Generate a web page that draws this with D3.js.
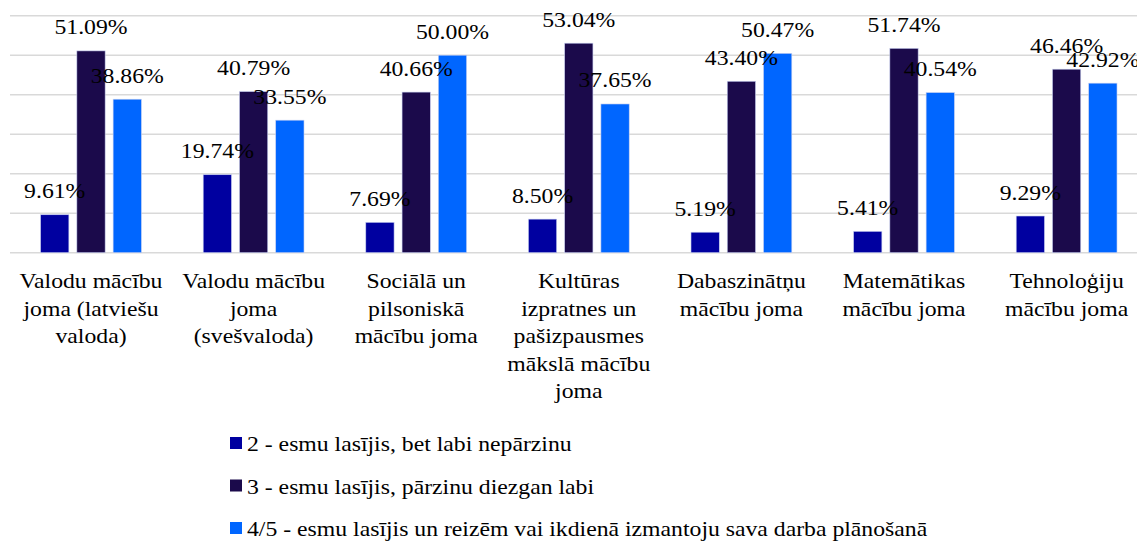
<!DOCTYPE html>
<html>
<head>
<meta charset="utf-8">
<script src="https://cdn.jsdelivr.net/npm/d3@7"></script>
</head>
<body style="margin:0">
<script>
// --------------------------------------
//  Data
// --------------------------------------

const categories = [
  "Valodu mācību joma (latviešu valoda)",
  "Valodu mācību joma (svešvaloda)",
  "Sociālā un pilsoniskā mācību joma",
  "Kultūras izpratnes un pašizpausmes mākslā mācību joma",
  "Dabaszinātņu mācību joma",
  "Matemātikas mācību joma",
  "Tehnoloģiju mācību joma"
];

const seriesNames = [
  "2 - esmu lasījis, bet labi nepārzinu",
  "3 - esmu lasījis, pārzinu diezgan labi",
  "4/5 - esmu lasījis un reizēm vai ikdienā izmantoju sava darba plānošanā"
];

const values2 = [9.61, 19.74, 7.69, 8.50, 5.19, 5.41, 9.29];
const values3 = [51.09, 40.79, 40.66, 53.04, 43.40, 51.74, 46.46];
const values45 = [38.86, 33.55, 50.00, 37.65, 50.47, 40.54, 42.92];

const gridTicks = [0, 10, 20, 30, 40, 50, 60];

const colors = ["#0000a0", "#1b0a4b", "#0066ff"];

// --------------------------------------
//  Canvas
// --------------------------------------

const W = 1137, H = 541;
const fontSize = 21;
const stretch = 1.13;   // the reference text is a bit wide
const fam = "\"Liberation Serif\"";

const svg = d3.select("body")
  .append("svg")
    .attr("width", W)
    .attr("height", H)
    .style("font-family", fam, "important");

// --------------------------------------
// Scales
// --------------------------------------

const x0 = d3.scaleBand()
    .domain(categories)
    .range([9.7, 1147.9])
    .paddingInner(0.38)
    .paddingOuter(0.19);

const x1 = d3.scaleBand()
    .domain([0, 1, 2])
    .range([0, x0.bandwidth()])
    .paddingInner(0.22);

const y = d3.scaleLinear()
    .domain([0, 60])
    .range([252.7, 15.7]);

// --------------------------------------
// Grid
// --------------------------------------

svg.append("g")
  .selectAll("line")
  .data(gridTicks)
  .join("line")
    .attr("x1", 10)
    .attr("x2", W)
    .attr("y1", d => y(d))
    .attr("y2", d => y(d))
    .attr("stroke", "#d9d9d9")
    .attr("stroke-width", 1.5);

// --------------------------------------
// Bars and labels
// --------------------------------------

const rows = categories.map((c, i) => ({
  cat: c,
  vals: [values2[i], values3[i], values45[i]]
}));

const groups = svg.append("g")
  .selectAll("g")
  .data(rows)
  .join("g")
    .attr("transform", d => `translate(${x0(d.cat)},0)`);

groups.selectAll("rect")
  .data(d => d.vals.map((v, k) => ({ k, v })))
  .join("rect")
    .attr("x", d => x1(d.k))
    .attr("y", d => y(d.v))
    .attr("width", x1.bandwidth())
    .attr("height", d => y(0) - y(d.v))
    .attr("fill", d => colors[d.k])
    .attr("stroke", "#c8d0f0")
    .attr("stroke-width", 0.6);

groups.selectAll("text")
  .data(d => d.vals.map((v, k) => ({ k, v })))
  .join("text")
    .attr("transform", d => `translate(${x1(d.k) + x1.bandwidth() / 2},${y(d.v) - 16.5}) scale(${stretch},1)`)
    .attr("text-anchor", "middle")
    .style("font-family", fam, "important")
    .attr("font-size", fontSize)
    .text(d => d.v.toFixed(2) + "%");

// --------------------------------------
// Category labels (wrapped)
// --------------------------------------

const catLabels = svg.append("g")
  .selectAll("text")
  .data(categories)
  .join("text")
    .attr("transform", d => `translate(${x0(d) + x0.bandwidth() / 2},288) scale(${stretch},1)`)
    .attr("text-anchor", "middle")
    .style("font-family", fam, "important")
    .attr("font-size", fontSize);

catLabels.each(function(d) {
  const t = d3.select(this);
  const words = d.split(" ");
  let line = [];
  let tspan = t.append("tspan").attr("x", 0).attr("dy", 0);
  words.forEach(w => {
    line.push(w);
    tspan.text(line.join(" "));
    if (tspan.node().getComputedTextLength() * stretch > 152 && line.length > 1) {
      line.pop();
      tspan.text(line.join(" "));
      line = [w];
      tspan = t.append("tspan").attr("x", 0).attr("dy", 27.6).text(w);
    }
  });
});

// --------------------------------------
// Legend
// --------------------------------------

const legend = svg.append("g")
  .selectAll("g")
  .data(seriesNames)
  .join("g")
    .attr("transform", (d, i) => `translate(230, ${437 + i * 42.5})`);

legend.append("rect")
    .attr("width", 12)
    .attr("height", 12)
    .attr("fill", (d, i) => colors[i]);

legend.append("text")
    .attr("transform", `translate(17,14) scale(${stretch},1)`)
    .style("font-family", fam, "important")
    .attr("font-size", fontSize)
    .text(d => d);
</script>
</body>
</html>
